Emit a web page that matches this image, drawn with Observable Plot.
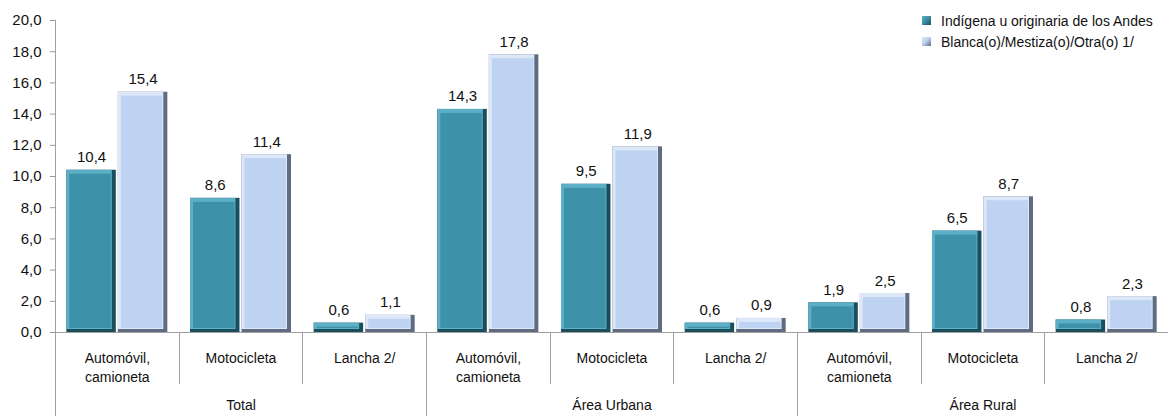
<!DOCTYPE html>
<html>
<head>
<meta charset="utf-8">
<script src="https://cdn.jsdelivr.net/npm/d3@7"></script>
<script src="https://cdn.jsdelivr.net/npm/@observablehq/plot@0.6"></script>
<style>
  html, body { margin: 0; padding: 0; background: #fff; }
  #wrap { position: relative; width: 1168px; height: 416px; font-family: "Liberation Sans", Arial, sans-serif; }
  #legend { position: absolute; left: 922px; top: 10px; font-size: 14px; color: #111; }
  .lg { display: flex; align-items: center; height: 21px; }
  .sw { width: 9px; height: 9px; margin-right: 10px; box-sizing: border-box; }
</style>
</head>
<body>
<div id="wrap"><div id="legend"></div></div>
<script>
const groups = ["Total", "Área Urbana", "Área Rural"];
const categories = ["Automóvil,\ncamioneta", "Motocicleta", "Lancha 2/"];
const series = ["Indígena u originaria de los Andes", "Blanca(o)/Mestiza(o)/Otra(o) 1/"];
const indigena = [10.4, 8.6, 0.6, 14.3, 9.5, 0.6, 1.9, 6.5, 0.8];
const blanca   = [15.4, 11.4, 1.1, 17.8, 11.9, 0.9, 2.5, 8.7, 2.3];
const yTicks = [0, 2, 4, 6, 8, 10, 12, 14, 16, 18, 20];

const mainColors = ["#3D91A9", "#BED2F2"];
const edgeColors = ["#1B4E5D", "#5F6B80"];
const lightColors = ["#5DAFC6", "#DCE7F8"];

const fmt = d => d.toFixed(1).replace(".", ",");

const keys = [];
const cats = [];
groups.forEach((g, gi) => categories.forEach((c, ci) => {
  const key = g + "|" + c;
  keys.push(key);
  cats.push({key, label: c, group: g, ci});
}));
const rows = [];
keys.forEach((k, i) => {
  rows.push({key: k, series: series[0], value: indigena[i]});
  rows.push({key: k, series: series[1], value: blanca[i]});
});
const groupLabels = groups.map((g, gi) => ({key: keys[gi * 3 + 1], label: g}));

const W = 1168, H = 416, ML = 55, MR = 0, MT = 20, MB = 84;
const si = d => series.indexOf(d.series);

const plot = Plot.plot({
  width: W, height: H,
  marginLeft: ML, marginRight: MR, marginTop: MT, marginBottom: MB,
  style: {fontFamily: "'Liberation Sans', Arial, sans-serif", fontSize: "14px", color: "#111", background: "transparent"},
  fx: {domain: keys, padding: 0, round: false, axis: null, label: null},
  x: {domain: series, paddingInner: 0.04, paddingOuter: 0.22, round: false, axis: null},
  y: {domain: [0, 20], label: null},
  color: {domain: series, range: mainColors},
  marks: [
    Plot.axisY({ticks: yTicks, tickFormat: fmt, tickSize: 5, tickPadding: 9, stroke: "#9a9a9a", fontSize: 15, color: "#111", label: null}),
    Plot.barY(rows, {fx: "key", x: "series", y: "value", fill: d => edgeColors[si(d)]}),
    Plot.barY(rows, {fx: "key", x: "series", y: "value", fill: d => lightColors[si(d)], insetRight: 4, insetBottom: 3}),
    Plot.barY(rows, {fx: "key", x: "series", y: "value", fill: "series", insetLeft: 3, insetRight: 5, insetTop: 4, insetBottom: 4}),
    Plot.ruleY([0], {stroke: "#a0a0a0"}),
    Plot.text(rows, {fx: "key", x: "series", y: "value", text: d => fmt(d.value), lineAnchor: "bottom", dy: -8, fontSize: 15, fill: "#111"}),
    Plot.text(cats, {fx: "key", text: "label", frameAnchor: "bottom", lineAnchor: "top", lineHeight: 1.3, dy: 18, fontSize: 14, fill: "#111"}),
    Plot.text(groupLabels, {fx: "key", text: "label", frameAnchor: "bottom", lineAnchor: "top", dy: 68, fontSize: 14, fill: "#111"})
  ]
});

const wrap = document.getElementById("wrap");
wrap.insertBefore(plot, wrap.firstChild);

// hierarchical category axis lines, placed with the plot's own scales
const fxS = plot.scale("fx");
const yS = plot.scale("y");
const svg = d3.select(plot);
const y0 = yS.apply(0), yTop = yS.apply(20);
const g = svg.append("g").attr("stroke", "#a0a0a0").attr("stroke-width", 1);
g.append("line").attr("x1", ML + 0.5).attr("x2", ML + 0.5).attr("y1", yTop).attr("y2", y0);
keys.forEach((k, i) => {
  const x = Math.round(fxS.apply(k)) + 0.5;
  const isGroupEdge = i % 3 === 0;
  g.append("line").attr("x1", x).attr("x2", x).attr("y1", y0).attr("y2", isGroupEdge ? H : y0 + 52);
});

// legend
const legend = d3.select("#legend");
series.forEach((s, i) => {
  const row = legend.append("div").attr("class", "lg");
  row.append("div").attr("class", "sw")
    .style("background", `linear-gradient(135deg, ${lightColors[i]} 0%, ${mainColors[i]} 45%, ${edgeColors[i]} 100%)`);
  row.append("span").text(s);
});
</script>
</body>
</html>
